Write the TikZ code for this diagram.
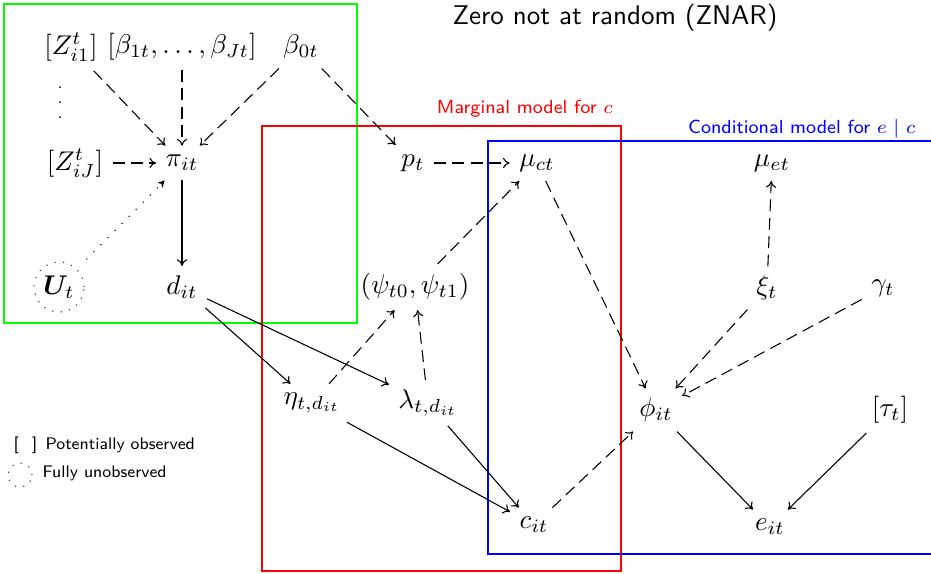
\documentclass[tikz,border=0pt]{standalone}
\usepackage{amsmath}
\usepackage{bm}
\usetikzlibrary{arrows.meta}
\begin{document}
\begin{tikzpicture}[x=0.37pt,y=-0.37pt,
  >={To[length=2.5pt,width=3.8pt]},
  dsh/.style={->,dash pattern=on 4.4pt off 2.4pt},
  dtt/.style={-{Stealth[length=2.6pt,width=2.6pt]},dash pattern=on 0.4pt off 3.3pt},
  sld/.style={->},
  box/.style={line width=0.8pt},
  lab/.style={font=\sffamily\fontsize{7.0}{8.5}\selectfont},
  leg/.style={font=\sffamily\fontsize{6.2}{7.5}\selectfont, inner sep=0pt},
  unobs/.style={draw=dkgreen, circle, dash pattern=on 0.45pt off 2.7pt},
  vdot/.style={circle, fill=black, inner sep=0pt, minimum size=0.75pt},
]
\definecolor{dkgreen}{rgb}{0.2,0.3,0.1}
\clip (0,0) rectangle (931,573);
\fill[white] (0,0) rectangle (931,573);
\draw[box,green] (4,4) rectangle (357,323);
\draw[box,red] (262,126) rectangle (621,571);
\draw[box,blue] (488,141) rectangle (960,554);

\node[font=\sffamily, anchor=base] (title) at (615,24) {Zero not at random (ZNAR)};
\node[lab,red,anchor=base] (ml) at (525,113) {Marginal model for $c$};
\node[lab,blue,anchor=base east] (cl) at (925,133) {Conditional model for $e\mid c$};

\node (z1) at (71,47) {$[Z^t_{i1}]$};
\node (bl) at (182,47) {$[\beta_{1t},\ldots,\beta_{Jt}]$};
\node (b0) at (301,47) {$\beta_{0t}$};
\node[vdot] (vd1) at (60,87) {};
\node[vdot] (vd2) at (60,102) {};
\node[vdot] (vd3) at (60,117) {};
\node (zJ) at (75,163) {$[Z^t_{iJ}]$};
\node (pi) at (182,163) {$\pi_{it}$};
\node[unobs, minimum size=18.5pt, inner sep=1pt] (U) at (59,287) {$\boldsymbol{U}_t$};
\node (d) at (182,287) {$d_{it}$};
\node (p) at (413,163) {$p_t$};
\node (mc) at (537,163) {$\mu_{ct}$};
\node (me) at (772,163) {$\mu_{et}$};
\node (psi) at (415,287) {$(\psi_{t0},\psi_{t1})$};
\node (xi) at (767,288) {$\xi_t$};
\node (ga) at (883,288) {$\gamma_t$};
\node (eta) at (312,403) {$\eta_{t,d_{it}}$};
\node (lam) at (428,403) {$\lambda_{t,d_{it}}$};
\node (phi) at (656,410) {$\phi_{it}$};
\node (tau) at (890,410) {$[\tau_t]$};
\node (c) at (534,525) {$c_{it}$};
\node (e) at (770,527) {$e_{it}$};

\node[leg,anchor=base west] (l1) at (13,449) {[\hspace{5pt}]\hspace{3pt}Potentially observed};
\node[unobs, minimum size=8.9pt, inner sep=0pt] (l2c) at (20,475) {};
\node[leg,anchor=base west] (l2) at (42,477) {Fully unobserved};

\draw[dsh] (z1) -- (pi);
\draw[dsh] (bl) -- (pi);
\draw[dsh] (b0) -- (pi);
\draw[dsh] (b0) -- (p);
\draw[dsh] (zJ) -- (pi);
\draw[dtt, shorten <=5pt] (U) -- (pi);
\draw[sld] (pi) -- (d);
\draw[sld] (d) -- (eta);
\draw[sld] (d) -- (lam);
\draw[dsh] (p) -- (mc);
\draw[dsh] (eta) -- (psi);
\draw[dsh] (lam) -- (psi);
\draw[dsh] (psi) -- (mc);
\draw[dsh] (mc) -- (phi);
\draw[dsh] (xi) -- (me);
\draw[dsh] (xi) -- (phi);
\draw[dsh] (ga) -- (phi);
\draw[sld] (eta) -- (c);
\draw[sld] (lam) -- (c);
\draw[dsh] (c) -- (phi);
\draw[sld] (phi) -- (e);
\draw[sld] (tau) -- (e);
\end{tikzpicture}
\end{document}
